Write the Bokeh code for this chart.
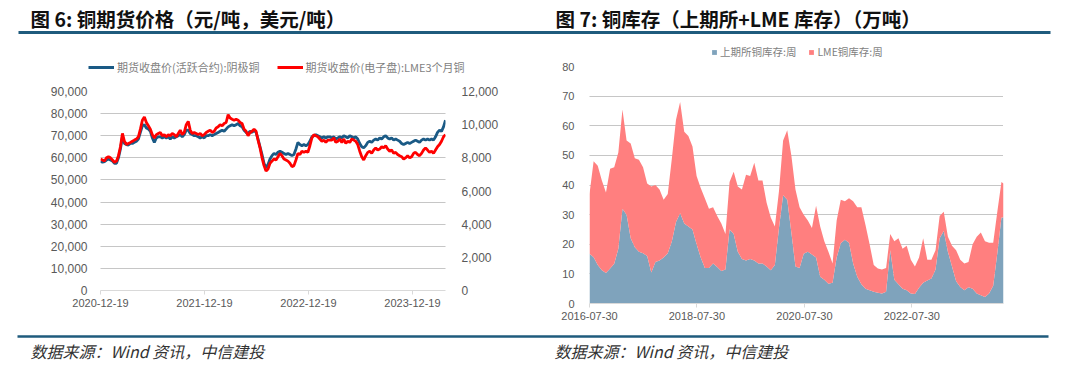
import pandas as pd
from bokeh.plotting import figure
from bokeh.models import (Range1d, LinearAxis, FixedTicker, NumeralTickFormatter,
                          DatetimeTickFormatter, Legend, LegendItem, ColumnDataSource)
from bokeh.layouts import column, row
from bokeh.core.properties import value
from bokeh.embed import file_html
from bokeh.resources import INLINE

LAT = "Liberation Sans"
CJK = "Noto Sans CJK SC"
NAN = float("nan")

fig6_title = "图 6: 铜期货价格（元/吨，美元/吨）"
fig7_title = "图 7: 铜库存（上期所+LME 库存）（万吨）"
source_text = "数据来源：Wind 资讯，中信建投"

# ---------------- Figure 6 data (weekly) ----------------
price_start = "2020-12-19"
price_end = "2024-04-13"
price_x_ticks = ["2020-12-19", "2021-12-19", "2022-12-19", "2023-12-19"]
shfe_label = "期货收盘价(活跃合约):阴极铜"
lme_label = "期货收盘价(电子盘):LME3个月铜"
# SHFE active contract, CNY/t
shfe_price = [
    58500, 58000, 58300, 59000, 59500, 59000, 58500, 57500, 57500, 60000,
    64000, 69500, 66500, 66000, 65800, 66500, 66500, 67000, 67500, 68500,
    71500, 74500, 75000, 73500, 73000, 72000, 69000, 67000, 69000, 69500,
    69500, 69000, 69500, 69000, 69500, 68500, 69500, 69000, 69500, 70000,
    70500, 69500, 70500, 72500, 72500, 71000, 70500, 70000, 70000, 69500,
    69000, 69500, 69000, 70000, 70000, 70500, 70000, 70500, 71000, 71500,
    72000, 72500, 72000, 73000, 74000, 74500, 75000, 74500, 75000, 75500,
    74500, 74000, 72500, 71500, 71000, 72000, 71500, 72500, 71500, 68500,
    65000, 61500, 57500, 55500, 57000, 59500, 61000, 62000, 61500, 62500,
    63000, 62500, 62000, 61500, 62000, 61500, 61000, 61500, 64000, 67000,
    66000, 65500, 66000, 65500, 66000, 67500, 69500, 70000, 70500, 70000,
    69500, 69000, 69500, 69000, 69500, 69500, 69000, 69500, 68500, 69000,
    69500, 69000, 70000, 69500, 69000, 70000, 69500, 69000, 69500, 68500,
    66500, 65000, 64500, 65500, 67000, 67500, 67000, 68000, 68500, 68000,
    69000, 68500, 69500, 70000, 69000, 68500, 69000, 68000, 68500, 68000,
    67500, 66500, 66000, 66500, 67000, 66500, 67000, 67500, 68000, 67500,
    67000, 68000, 68500, 68000, 68500, 68000, 68500, 68000, 69500, 71500,
    72500, 72000, 74000, 77000,
]
# LME 3M copper, USD/t
lme_price = [
    7930, 7870, 7800, 8000, 8070, 8000, 7870, 7730, 7800, 8130,
    8670, 9470, 9000, 8800, 8870, 8930, 9000, 9070, 9130, 9270,
    9730, 10270, 10470, 10130, 9930, 9730, 9400, 9200, 9400, 9470,
    9530, 9330, 9400, 9270, 9400, 9330, 9470, 9400, 9270, 9470,
    9670, 9400, 9530, 10000, 10200, 9670, 9470, 9530, 9470, 9400,
    9470, 9330, 9400, 9530, 9600, 9670, 9530, 9600, 9800, 9870,
    10000, 9930, 10070, 10130, 10600, 10400, 10330, 10270, 10330, 10270,
    10130, 10070, 9730, 9600, 9330, 9530, 9600, 9730, 9600, 9070,
    8600, 8000, 7530, 7200, 7330, 7670, 7800, 7930, 7870, 8070,
    8270, 8130, 7930, 7870, 7800, 7670, 7470, 7530, 7870, 8270,
    8200, 8400, 8330, 8400, 8330, 8730, 9200, 9400, 9330, 9270,
    9130, 9000, 9070, 8930, 9070, 9070, 9070, 9200, 8930, 9000,
    9130, 8930, 9130, 8870, 9000, 8930, 9130, 9070, 9000, 8800,
    8400, 8070, 7870, 8130, 8330, 8400, 8270, 8470, 8600, 8470,
    8530, 8670, 8600, 8730, 8530, 8400, 8470, 8270, 8330, 8200,
    8130, 8070, 7930, 8000, 8130, 8000, 8070, 8270, 8330, 8200,
    8130, 8270, 8470, 8600, 8470, 8330, 8400, 8270, 8470, 8670,
    8800, 9000, 9270, 9400,
]
cny_ticks = list(range(0, 90001, 10000))
usd_ticks = list(range(0, 12001, 2000))

# ---------------- Figure 7 data (every 4 weeks) ----------------
inv_start = "2016-07-30"
inv_end = "2024-04-13"
inv_x_ticks = ["2016-07-30", "2018-07-30", "2020-07-30", "2022-07-30"]
shfe_inv_label = "上期所铜库存:周"
lme_inv_label = "LME铜库存:周"
# 10k tonnes
shfe_inv = [
    16.8, 15.6, 13.0, 11.2, 10.3, 11.8, 13.4, 18.5, 32.0, 30.0,
    22.0, 19.0, 17.5, 17.0, 16.0, 10.5, 14.0, 14.5, 15.5, 17.0,
    21.0, 27.5, 30.5, 27.0, 26.0, 25.0, 20.0, 15.5, 12.0, 12.0,
    13.5, 12.3, 11.0, 11.5, 25.0, 23.5, 17.5, 15.0, 14.5, 15.0,
    14.5, 13.5, 13.5, 12.5, 11.2, 13.0, 25.5, 36.5, 35.0, 24.0,
    12.5, 12.0, 16.8, 17.5, 16.5, 15.5, 9.0, 8.0, 6.7, 7.0,
    15.5, 20.3, 21.5, 20.5, 13.5, 9.0, 6.5, 5.0, 4.5, 4.0,
    3.6, 3.4, 4.0, 18.0, 8.0, 6.5, 5.0, 4.5, 3.4, 3.2,
    5.3, 7.0, 7.8, 8.4, 11.5, 22.0, 24.5, 17.5, 12.5, 7.5,
    5.6, 4.5, 5.5, 5.0, 3.4, 2.8, 2.2, 3.4, 6.0, 17.0,
    29.0, 29.0,
]
lme_inv = [
    20.2, 32.4, 33.5, 30.3, 27.2, 33.7, 32.6, 32.5, 33.5, 25.0,
    32.0, 30.0, 31.0, 29.0, 24.5, 29.0, 26.0, 24.0, 19.5, 20.0,
    28.0, 34.5, 37.5, 31.0, 30.5, 28.0, 23.0, 23.5, 23.5, 20.0,
    19.0, 17.2, 16.0, 12.0, 16.0, 21.0, 22.0, 23.5, 29.0, 28.0,
    33.0, 28.0, 28.0, 21.5, 17.8, 13.0, 12.5, 18.5, 23.5, 26.0,
    26.0, 20.5, 13.2, 10.5, 9.0, 17.5, 17.0, 13.0, 10.8, 6.5,
    12.5, 14.7, 13.0, 15.0, 21.0, 23.5, 26.0, 21.5, 15.5, 9.0,
    8.2, 8.1, 8.0, 5.5, 13.0, 15.5, 13.5, 15.0, 11.4, 9.3,
    10.2, 15.0, 7.0, 6.4, 6.5, 7.5, 6.5, 5.0, 7.0, 10.5,
    9.2, 9.0, 8.5, 15.0, 19.1, 21.2, 18.8, 17.1, 14.5, 14.0,
    12.0, 11.5,
]
inv_ticks = list(range(0, 81, 10))

# ---------------- styling ----------------
HEAD_BLUE = "#1f5b7d"
GRAY_TXT = "#595959"
AXIS_GRAY = "#d9d9d9"
GRID_GRAY = "#8c8c8c"
SHFE_LINE = "#1a5a85"
LME_LINE = "#ff0000"
SHFE_AREA = "#7fa3bc"
LME_AREA = "#ff7f7f"


def ms(d):
    return pd.Timestamp(d).value // 10**6


def no_align(f):
    try:
        f.frame_align = False
    except Exception:
        pass


def blank(w, h):
    f = figure(width=w, height=h, x_range=Range1d(0, w), y_range=Range1d(0, h),
               output_backend="svg", toolbar_location=None, min_border=0,
               x_axis_location=None, y_axis_location=None, outline_line_color=None)
    f.grid.visible = False
    no_align(f)
    return f


def style_common(p, y_size):
    no_align(p)
    p.xgrid.visible = False
    p.ygrid.grid_line_color = GRID_GRAY
    p.ygrid.grid_line_dash = "1 1"
    p.ygrid.grid_line_width = 1
    for ax in p.yaxis:
        ax.axis_line_color = None
        ax.major_tick_line_color = None
        ax.minor_tick_line_color = None
        ax.major_label_text_color = GRAY_TXT
        ax.major_label_text_font = LAT
        ax.major_label_text_font_size = y_size
    ax = p.xaxis[0]
    ax.axis_line_color = AXIS_GRAY
    ax.major_tick_line_color = AXIS_GRAY
    ax.major_tick_in = 0
    ax.major_tick_out = 4
    ax.minor_tick_line_color = None
    ax.major_label_text_color = GRAY_TXT
    ax.major_label_text_font = LAT
    ax.major_label_text_font_size = "11px"
    ax.major_label_standoff = 4
    fmt = "%Y-%m-%d"
    ax.formatter = DatetimeTickFormatter(milliseconds=fmt, seconds=fmt, minsec=fmt, minutes=fmt,
                                         hourmin=fmt, hours=fmt, days=fmt, months=fmt, years=fmt)


def legend_style(**kw):
    base = dict(orientation="horizontal", padding=0, margin=0, label_standoff=3,
                label_text_font=CJK, label_text_color="#7f7f7f",
                border_line_color=None, background_fill_alpha=0, label_height=12)
    base.update(kw)
    return base


# header
hdr = blank(1080, 38)
hdr.text(x=[30, 555], y=[20, 20], text=[fig6_title, fig7_title], text_font=value(CJK),
         text_font_size="19.5px", text_font_style="bold", text_baseline="middle",
         text_align="left", text_color="#111111")
hdr.segment(x0=[18], y0=[6], x1=[1050], y1=[6], line_width=3, line_color=HEAD_BLUE)

# ---------- figure 6 ----------
s1 = blank(540, 42)
# legend keys (no visible data in the strip)
k1 = s1.line(x=[NAN], y=[NAN], line_color=SHFE_LINE, line_width=3)
k2 = s1.line(x=[NAN], y=[NAN], line_color=LME_LINE, line_width=3)
s1.add_layout(Legend(items=[LegendItem(label=shfe_label, renderers=[k1]),
                            LegendItem(label=lme_label, renderers=[k2])],
                     location=(88, 5), spacing=17, glyph_width=26, glyph_height=12,
                     **legend_style(label_text_font_size="11px")))

price_dates = pd.date_range(price_start, periods=len(shfe_price), freq="7D")
p1 = figure(width=540, height=246, x_axis_type="datetime",
            x_range=Range1d(pd.Timestamp(price_start), pd.Timestamp(price_end)),
            y_range=Range1d(0, 90000), output_backend="svg", toolbar_location=None,
            min_border_left=100, min_border_right=95, min_border_top=11, min_border_bottom=36,
            outline_line_color=None)
p1.extra_y_ranges = {"usd": Range1d(0, 12000)}
p1.line(price_dates, shfe_price, line_color=SHFE_LINE, line_width=2.8)
p1.line(price_dates, lme_price, y_range_name="usd", line_color=LME_LINE, line_width=2.8)
p1.yaxis[0].ticker = FixedTicker(ticks=cny_ticks)
p1.yaxis[0].formatter = NumeralTickFormatter(format="0,0")
p1.yaxis[0].major_label_standoff = 7
p1.ygrid.ticker = FixedTicker(ticks=cny_ticks[1:])
rax = LinearAxis(y_range_name="usd", ticker=FixedTicker(ticks=usd_ticks),
                 formatter=NumeralTickFormatter(format="0,0"), major_label_standoff=10)
p1.add_layout(rax, "right")
p1.xaxis[0].ticker = FixedTicker(ticks=[ms(d) for d in price_x_ticks])
style_common(p1, "12px")

# ---------- figure 7 ----------
s2 = blank(540, 22)
k3 = s2.varea(x=[NAN], y1=[NAN], y2=[NAN], fill_color=SHFE_AREA)
k4 = s2.varea(x=[NAN], y1=[NAN], y2=[NAN], fill_color=LME_AREA)
s2.add_layout(Legend(items=[LegendItem(label=shfe_inv_label, renderers=[k3]),
                            LegendItem(label=lme_inv_label, renderers=[k4])],
                     location=(171, 1), spacing=12, glyph_width=6, glyph_height=6,
                     **legend_style(label_text_font_size="10.5px")))

inv_dates = list(pd.date_range(inv_start, periods=len(shfe_inv) - 1, freq="28D")) + [pd.Timestamp(inv_end)]
src = ColumnDataSource(dict(date=inv_dates, shfe=shfe_inv, lme=lme_inv))
p2 = figure(width=540, height=266, x_axis_type="datetime",
            x_range=Range1d(pd.Timestamp(inv_start), pd.Timestamp(inv_end)),
            y_range=Range1d(0, 80), output_backend="svg", toolbar_location=None,
            min_border_left=49, min_border_right=77, min_border_top=6, min_border_bottom=23,
            outline_line_color=None)
p2.varea_stack(["shfe", "lme"], x="date", source=src, color=[SHFE_AREA, LME_AREA])
p2.yaxis[0].ticker = FixedTicker(ticks=inv_ticks)
p2.yaxis[0].major_label_standoff = 9
p2.ygrid.ticker = FixedTicker(ticks=inv_ticks[1:])
p2.xaxis[0].ticker = FixedTicker(ticks=[ms(d) for d in inv_x_ticks])
style_common(p2, "11px")

# footer
ftr = blank(1080, 40)
ftr.segment(x0=[17], y0=[30], x1=[1048], y1=[30], line_width=2.5, line_color=HEAD_BLUE)
ftr.text(x=[30, 554], y=[16, 16], text=[source_text, source_text], text_font=value(CJK),
         text_font_size="16px", text_font_style="italic", text_baseline="middle",
         text_align="left", text_color="#333333")

layout = column(hdr, row(column(s1, p1), column(s2, p2)), ftr)
open("out.html", "w").write(file_html(layout, INLINE))
